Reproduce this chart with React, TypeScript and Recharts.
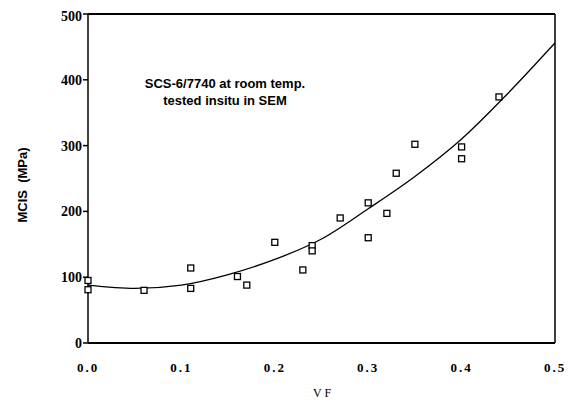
import { ComposedChart, Scatter, Line, XAxis, YAxis, ReferenceLine } from 'recharts';

// measured points (fiber volume fraction vs. MCIS)
const vf = [0, 0, 0.06, 0.11, 0.11, 0.16, 0.17, 0.2, 0.23, 0.24, 0.24, 0.27, 0.3, 0.3, 0.32, 0.33, 0.35, 0.4, 0.4, 0.44];
const mcis = [95, 81, 80, 114, 83, 101, 88, 153, 111, 148, 140, 190, 213, 160, 197, 258, 302, 298, 280, 374];

// fitted curve
const fitVf = [0, 0.05, 0.1, 0.15, 0.2, 0.25, 0.3, 0.35, 0.4, 0.45, 0.5];
const fitMcis = [88, 83, 88, 104, 127, 158, 204, 253, 310, 380, 456];

const xTicks = [0, 0.1, 0.2, 0.3, 0.4, 0.5];
const yTicks = [0, 100, 200, 300, 400, 500];

const points = vf.map((x, i) => ({ x, y: mcis[i] }));
const fit = fitVf.map((x, i) => ({ x, y: fitMcis[i] }));

const Square = (props: any) => {
  const { cx, cy } = props;
  return <rect x={cx - 3} y={cy - 3} width={6} height={6} fill="#fff" stroke="#000" strokeWidth={1.3} />;
};

const App = () => {
  return (
    <div style={{ position: 'relative', width: 566, height: 399, background: '#fff' }}>
      <ComposedChart width={566} height={399} margin={{ top: 6, right: 19, left: 8, bottom: 34 }}>
        <XAxis
          dataKey="x"
          type="number"
          domain={[0, 0.5]}
          ticks={xTicks}
          tickFormatter={(v: number) => v.toFixed(1)}
          height={30}
          tickLine={false}
          tickMargin={14}
          axisLine={{ stroke: '#000', strokeWidth: 2 }}
          tick={{ fill: '#000', fontSize: 13, fontFamily: 'Liberation Serif', fontWeight: 'bold', letterSpacing: 2 }}
        />
        <YAxis
          type="number"
          domain={[0, 500]}
          ticks={yTicks}
          width={72}
          tickSize={5}
          tickMargin={1}
          tickLine={{ stroke: '#000', strokeWidth: 1.5 }}
          axisLine={{ stroke: '#000', strokeWidth: 1.5 }}
          tick={{ fill: '#000', fontSize: 14, fontFamily: 'Liberation Serif', fontWeight: 'bold' }}
        />
        <ReferenceLine y={500} stroke="#000" strokeWidth={2} />
        <ReferenceLine x={0.5} stroke="#000" strokeWidth={1.5} />
        <Line
          data={fit}
          dataKey="y"
          type="monotone"
          stroke="#000"
          strokeWidth={1.3}
          dot={false}
          isAnimationActive={false}
        />
        <Scatter data={points} dataKey="y" shape={Square} isAnimationActive={false} />
      </ComposedChart>

      <div
        style={{
          position: 'absolute',
          left: 117,
          top: 67,
          width: 200,
          textAlign: 'center',
          fontFamily: 'Liberation Sans',
          fontWeight: 'bold',
          fontSize: 13,
          lineHeight: '17px',
        }}
      >
        SCS-6/7740 at room temp.
        <br />
        tested insitu in SEM
      </div>
      <div
        style={{
          position: 'absolute',
          left: 15 - 60,
          top: 177 - 9,
          width: 120,
          textAlign: 'center',
          transform: 'rotate(-90deg)',
          fontFamily: 'Liberation Sans',
          fontWeight: 'bold',
          fontSize: 13,
          lineHeight: '18px',
          whiteSpace: 'pre',
        }}
      >
        {'MCIS  (MPa)'}
      </div>
      <div
        style={{
          position: 'absolute',
          left: 314 - 20,
          top: 385 - 8,
          width: 40,
          textAlign: 'center',
          fontFamily: 'Liberation Serif',
          fontSize: 12,
          lineHeight: '16px',
          whiteSpace: 'pre',
        }}
      >
        {'V F'}
      </div>
    </div>
  );
};

export default App;
